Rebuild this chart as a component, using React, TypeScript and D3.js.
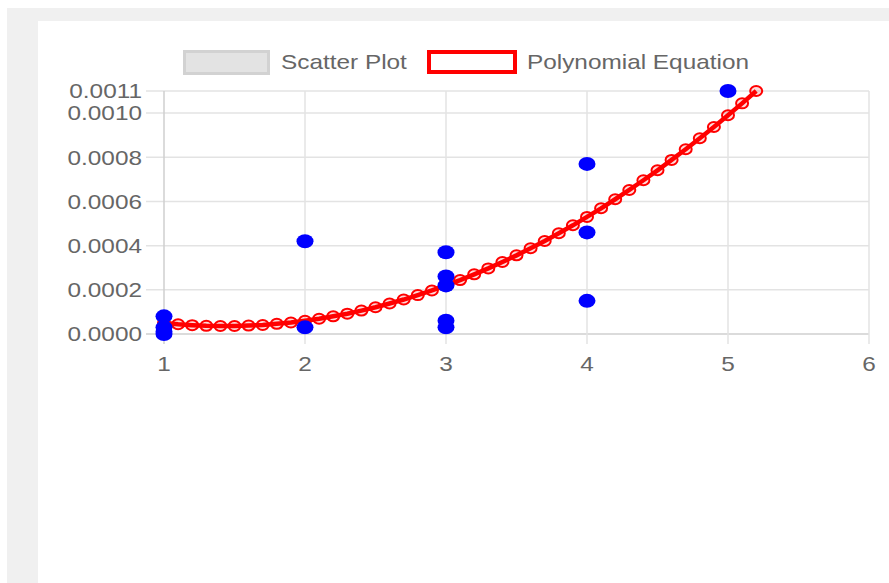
import React from "react";
import * as d3 from "d3";

const scatterX = [1, 1, 1, 1, 2, 2, 3, 3, 3, 3, 3, 4, 4, 4, 5];
const scatterY = [0.00008, 0.00003, 0.00001, 0.0, 0.00042, 0.00003, 0.00037, 0.00026, 0.00022, 0.00006, 0.00003, 0.00077, 0.00046, 0.00015, 0.0011];

const polyX = [1.0, 1.1, 1.2, 1.3, 1.4, 1.5, 1.6, 1.7, 1.8, 1.9, 2.0, 2.1, 2.2, 2.3, 2.4, 2.5, 2.6, 2.7, 2.8, 2.9, 3.0, 3.1, 3.2, 3.3, 3.4, 3.5, 3.6, 3.7, 3.8, 3.9, 4.0, 4.1, 4.2, 4.3, 4.4, 4.5, 4.6, 4.7, 4.8, 4.9, 5.0, 5.1, 5.2];
const polyY = [0.00005, 0.000044, 0.00004, 0.000037, 0.000036, 0.000036, 0.000038, 0.000041, 0.000046, 0.000052, 0.00006, 0.000069, 0.00008, 0.000092, 0.000106, 0.000121, 0.000138, 0.000156, 0.000176, 0.000197, 0.00022, 0.000244, 0.00027, 0.000297, 0.000326, 0.000356, 0.000388, 0.000421, 0.000456, 0.000492, 0.00053, 0.000569, 0.00061, 0.000652, 0.000696, 0.000741, 0.000788, 0.000836, 0.000886, 0.000937, 0.00099, 0.001044, 0.0011];

const xTicks = [1, 2, 3, 4, 5, 6];
const yTicks = [0, 0.0002, 0.0004, 0.0006, 0.0008, 0.001, 0.0011];
const yTickLabels = ["0.0000", "0.0002", "0.0004", "0.0006", "0.0008", "0.0010", "0.0011"];
const legendLabels = ["Scatter Plot", "Polynomial Equation"];

const font = "'Liberation Sans', Arial, sans-serif";
const textColor = "#666";
const SX = 1.16;

function T({ x, y, anchor = "start", children }: { x: number; y: number; anchor?: string; children: React.ReactNode }) {
  return (
    <text
      transform={`translate(${x},${y}) scale(${SX},1)`}
      dy="0.35em"
      textAnchor={anchor}
      fontFamily={font}
      fontSize={21}
      fill={textColor}
    >
      {children}
    </text>
  );
}

export default function App() {
  const W = 889, H = 583;
  const x = d3.scaleLinear().domain([1, 6]).range([164, 869]);
  const y = d3.scaleLinear().domain([0, 0.0011]).range([334, 91]);
  const line = d3.line<number>().x((d, i) => x(polyX[i])).y((d) => y(d));

  return (
    <svg width={W} height={H} style={{ position: "absolute", left: 0, top: 0 }}>
      <rect x={0} y={0} width={W} height={H} fill="#fff" />
      <rect x={7} y={8} width={W - 7} height={H - 8} fill="#f0f0f0" />
      <rect x={38} y={21} width={W - 38} height={H - 21} fill="#fff" />

      {yTicks.map((t, i) => (
        <line key={"gy" + i} x1={146} x2={869} y1={y(t)} y2={y(t)} stroke={t === 0 ? "#cfcfcf" : "#e3e3e3"} strokeWidth={1.5} />
      ))}
      {xTicks.map((t, i) => (
        <line key={"gx" + i} x1={x(t)} x2={x(t)} y1={91} y2={344} stroke={t === 1 ? "#cfcfcf" : "#e3e3e3"} strokeWidth={1.5} />
      ))}

      {yTicks.map((t, i) => (
        <T key={"yl" + i} x={142} y={y(t)} anchor="end">{yTickLabels[i]}</T>
      ))}
      {xTicks.map((t, i) => (
        <T key={"xl" + i} x={x(t)} y={364} anchor="middle">{t}</T>
      ))}

      <path d={line(polyY) || ""} fill="none" stroke="#ff0000" strokeWidth={4.5} />
      {polyY.map((v, i) => (
        <ellipse key={"pp" + i} cx={x(polyX[i])} cy={y(v)} rx={6} ry={5} fill="rgba(255,0,0,0.15)" stroke="#ff0000" strokeWidth={2} />
      ))}

      {scatterY.map((v, i) => (
        <ellipse key={"sp" + i} cx={x(scatterX[i])} cy={y(v)} rx={8.5} ry={7} fill="#0000ff" />
      ))}

      <rect x={184.5} y={51.5} width={84} height={22} fill="#e3e3e3" stroke="#d2d2d2" strokeWidth={3} />
      <T x={281} y={62}>{legendLabels[0]}</T>
      <rect x={429} y={52} width={86} height={20} fill="#fff" stroke="#ff0000" strokeWidth={4} />
      <T x={527} y={62}>{legendLabels[1]}</T>
    </svg>
  );
}
